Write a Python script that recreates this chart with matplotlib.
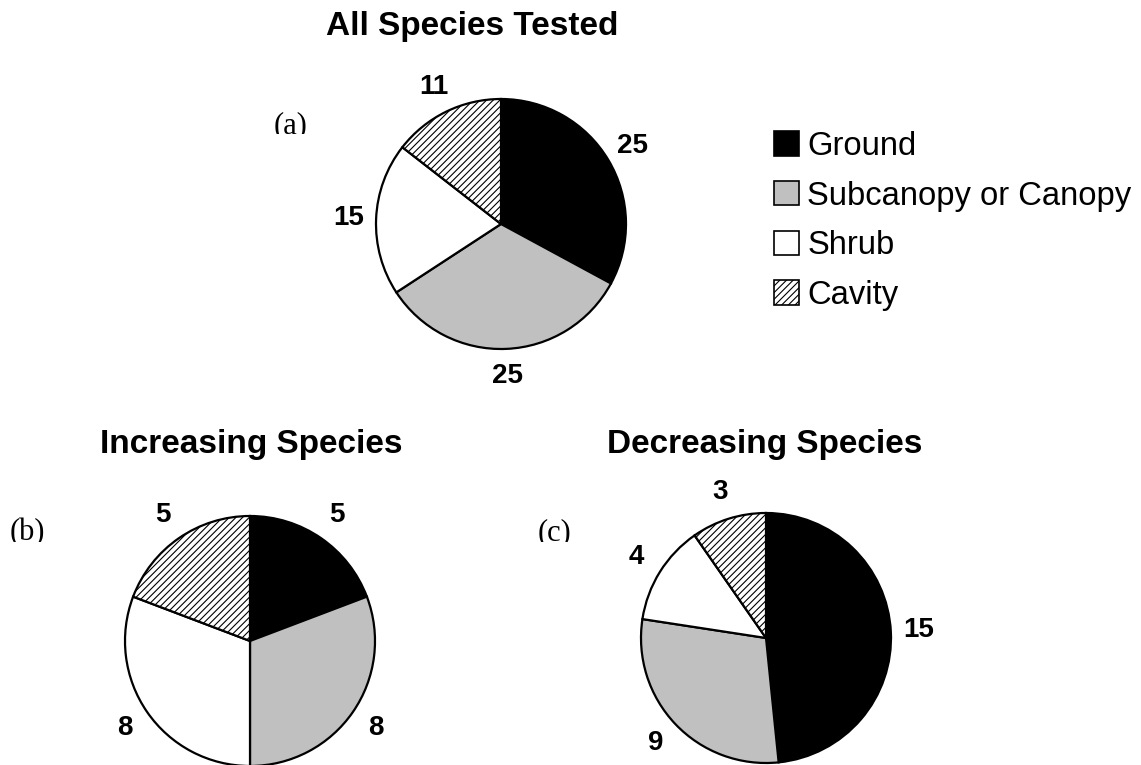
import matplotlib
matplotlib.use("Agg")
import matplotlib.pyplot as plt
from matplotlib.patches import Patch
from matplotlib.transforms import Bbox, TransformedBbox

# ---------------- data ----------------
categories = ["Ground", "Subcanopy or Canopy", "Shrub", "Cavity"]
all_species = [25, 25, 15, 11]
increasing_species = [5, 8, 8, 5]
decreasing_species = [15, 9, 4, 3]
titles = ["All Species Tested", "Increasing Species", "Decreasing Species"]
panel_tags = ["(a)", "(b)", "(c)"]

# ---------------- style ----------------
colors = ["#000000", "#C0C0C0", "#FFFFFF", "#FFFFFF"]
hatches = [None, None, None, "/////"]
plt.rcParams["hatch.linewidth"] = 0.8
SANS = ["Liberation Sans", "DejaVu Sans"]
SERIF = ["Liberation Serif", "DejaVu Serif"]

W, H = 1141, 765
fig = plt.figure(figsize=(W / 100, H / 100), dpi=100)
ax = fig.add_axes([0, 0, 1, 1])


def Y(py):
    return H - py


# layout (pixel coords, top-left origin)
pies = [
    dict(vals=all_species, cx=501, cy=224, r=125, title_x=472, title_base=35,
         tag_x=274, tag_base=133, tag_clip=134),
    dict(vals=increasing_species, cx=250, cy=641, r=125, title_x=251, title_base=453,
         tag_x=10, tag_base=540, tag_clip=542),
    dict(vals=decreasing_species, cx=766, cy=638, r=125, title_x=765, title_base=453,
         tag_x=538, tag_base=540, tag_clip=542),
]

for p, title, tag in zip(pies, titles, panel_tags):
    wedges, texts = ax.pie(
        p["vals"], labels=[str(v) for v in p["vals"]], colors=colors,
        startangle=90, counterclock=False, center=(p["cx"], Y(p["cy"])),
        radius=p["r"], labeldistance=1.22, frame=False,
        wedgeprops=dict(edgecolor="black", linewidth=1.6),
        textprops=dict(fontsize=20, fontweight="bold", family=SANS),
    )
    for w, h in zip(wedges, hatches):
        if h:
            w.set_hatch(h)
    for t in texts:
        t.set_ha("center")
        t.set_va("center")
    ax.text(p["title_x"], Y(p["title_base"]), title, ha="center", va="baseline",
            fontsize=24, fontweight="bold", family=SANS)
    tt = ax.text(p["tag_x"], Y(p["tag_base"]), tag, ha="left", va="baseline",
                 fontsize=22, family=SERIF)
    clip = TransformedBbox(Bbox([[0, Y(p["tag_clip"])], [W, H]]), ax.transData)
    tt.set_clip_box(clip)
    tt.set_clip_on(True)

handles = [Patch(facecolor=c, edgecolor="black", hatch=h, linewidth=1.2)
           for c, h in zip(colors, hatches)]
leg = ax.legend(handles, categories, loc="upper left",
                bbox_to_anchor=(774, Y(131)), bbox_transform=ax.transData,
                frameon=False, borderpad=0, borderaxespad=0,
                handlelength=0.77, handleheight=0.77, handletextpad=0.25,
                labelspacing=0.57, prop=dict(family=SANS, size=23.6))

ax.set_xlim(0, W)
ax.set_ylim(0, H)
ax.set_aspect("equal")
ax.axis("off")
fig.savefig("out.png", dpi=100)
